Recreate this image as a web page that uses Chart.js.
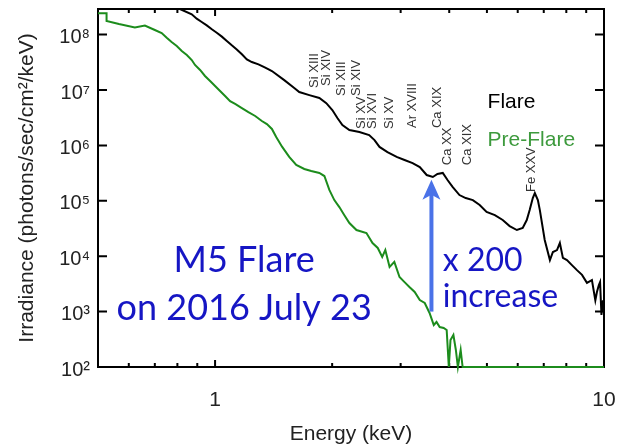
<!DOCTYPE html>
<html><head><meta charset="utf-8">
<script src="https://cdn.jsdelivr.net/npm/chart.js@4.4.0/dist/chart.umd.min.js"></script>
<style>html,body{margin:0;padding:0;background:#fff;}</style>
</head><body>
<canvas id="c" width="617" height="448"></canvas>
<script>
// ---- data (energy in keV, irradiance in photons/sec/cm^2/keV) ----
const flareEnergy = [0.5, 0.7, 0.812, 0.871, 0.897, 0.924, 0.952, 0.981, 1.010, 1.041, 1.072, 1.104, 1.137, 1.172, 1.207, 1.243, 1.293, 1.346, 1.400, 1.506, 1.598, 1.646, 1.747, 1.854, 1.932, 2.002, 2.063, 2.125, 2.215, 2.35, 2.49, 2.57, 2.647, 2.775, 2.93, 3.07, 3.22, 3.36, 3.50, 3.63, 3.73, 3.85, 3.96, 4.08, 4.25, 4.41, 4.60, 4.79, 4.99, 5.24, 5.49, 5.72, 5.97, 6.18, 6.33, 6.44, 6.56, 6.64, 6.76, 6.84, 7.04, 7.26, 7.39, 7.57, 7.70, 7.84, 8.03, 8.27, 8.52, 8.78, 9.04, 9.31, 9.5, 9.59, 9.7, 9.77, 9.85, 9.94, 10.0];
const flareIrr = [8e8, 4.5e8, 2.9e8, 2.32e8, 1.94e8, 1.69e8, 1.47e8, 1.25e8, 1.08e8, 9.2e7, 7.7e7, 6.4e7, 5.4e7, 4.41e7, 3.58e7, 3.2e7, 2.91e7, 2.53e7, 2.2e7, 1.51e7, 1.09e7, 9.2e6, 8.1e6, 7.2e6, 5.8e6, 4.35e6, 3.13e6, 2.33e6, 1.9e6, 1.75e6, 1.54e6, 1.25e6, 9.4e5, 7.6e5, 6.2e5, 5.45e5, 4.8e5, 4.07e5, 2.92e5, 2.69e5, 3.05e5, 3.18e5, 2.37e5, 1.78e5, 1.27e5, 1.12e5, 1.03e5, 8.4e4, 6.3e4, 5.5e4, 4.5e4, 3.5e4, 2.97e4, 3.23e4, 4.5e4, 6.8e4, 1.12e5, 1.38e5, 1.03e5, 6.8e4, 1.96e4, 8.5e3, 1.19e4, 1.29e4, 1.73e4, 9.3e3, 8.5e3, 6.9e3, 5.6e3, 4.6e3, 3.3e3, 3.7e3, 1.6e3, 2.26e3, 3.0e3, 3.4e3, 870, 1.6e3, 1.0e3];
const preEnergy = [0.5, 0.526, 0.526, 0.566, 0.622, 0.660, 0.700, 0.729, 0.751, 0.773, 0.797, 0.821, 0.846, 0.871, 0.888, 0.915, 0.942, 0.971, 1.0, 1.030, 1.061, 1.093, 1.126, 1.172, 1.218, 1.268, 1.319, 1.359, 1.400, 1.436, 1.488, 1.551, 1.617, 1.696, 1.767, 1.854, 1.91, 1.967, 2.026, 2.087, 2.15, 2.215, 2.31, 2.45, 2.54, 2.62, 2.69, 2.74, 2.81, 2.89, 2.98, 3.07, 3.16, 3.26, 3.36, 3.46, 3.56, 3.65, 3.71, 3.78, 3.87, 3.94, 3.99, 4.03, 4.10, 4.16, 4.21, 4.28, 4.33, 4.38, 6.0, 8.0, 10];
const preIrr = [2.42e8, 2.42e8, 1.76e8, 1.55e8, 1.34e8, 1.46e8, 1.21e8, 1.07e8, 8.8e7, 7.35e7, 6.22e7, 5.06e7, 4.29e7, 3.48e7, 2.83e7, 2.3e7, 1.79e7, 1.45e7, 1.18e7, 9.6e6, 7.8e6, 6.3e6, 5.6e6, 4.73e6, 4.0e6, 3.4e6, 2.76e6, 2.43e6, 1.98e6, 1.42e6, 9.4e5, 6.2e5, 4.43e5, 3.75e5, 3.45e5, 3.18e5, 2.8e5, 1.57e5, 1.03e5, 7.7e4, 5.5e4, 3.97e4, 2.97e4, 2.62e4, 1.73e4, 1.41e4, 9.7e3, 1.29e4, 6.4e3, 7.9e3, 4.2e3, 3.4e3, 2.78e3, 2.26e3, 1.62e3, 1.43e3, 944, 573, 649, 527, 506, 466, 100, 307, 378, 203, 100, 203, 100, 100, 100, 100, 100];

const yTickValues = [1e2, 1e3, 1e4, 1e5, 1e6, 1e7, 1e8];
const yTickLabels = ['10²', '10³', '10⁴', '10⁵', '10⁶', '10⁷', '10⁸'];
const xTickValues = [1, 10];
const xTickLabels = ['1', '10'];
const xMinorTickValues = [0.6, 0.7, 0.8, 0.9, 2, 3, 4, 5, 6, 7, 8, 9];

// spectral line labels: text, energy (keV), irradiance at the label's lower end
const lineLabelText = ['Si XIII', 'Si XIV', 'Si XIII', 'Si XIV', 'Si XV', 'Si XVI', 'Si XV', 'Ar XVIII', 'Ca XIX', 'Ca XX', 'Ca XIX', 'Fe XXV'];
const lineLabelEnergy = [1.80, 1.93, 2.11, 2.31, 2.38, 2.54, 2.81, 3.22, 3.73, 3.96, 4.46, 6.52];
const lineLabelIrr = [1.09e7, 1.18e7, 7.8e6, 7.8e6, 1.98e6, 1.98e6, 1.98e6, 2.06e6, 2.06e6, 4.4e5, 4.4e5, 1.44e5];

// increase arrow (energy, from, to)
const arrowEnergy = 3.6;
const arrowFrom = 1000;
const arrowTo = 2.4e5;

const FONT = '"Liberation Sans", Arial, Helvetica, sans-serif';
const BLUE_TXT = '#1616c4';

const frame = {
  id: 'frame',
  beforeDatasetsDraw(chart) {
    const {ctx, chartArea: a, scales: {x, y}} = chart;
    ctx.save();
    ctx.strokeStyle = '#000';
    ctx.lineWidth = 2;
    ctx.strokeRect(a.left, a.top, a.right - a.left, a.bottom - a.top);
    yTickValues.forEach(v => {
      const py = y.getPixelForValue(v);
      ctx.beginPath();
      ctx.moveTo(a.left, py); ctx.lineTo(a.left + 9, py);
      ctx.moveTo(a.right, py); ctx.lineTo(a.right - 9, py);
      ctx.stroke();
    });
    const xt = (v, len) => {
      const px = x.getPixelForValue(v);
      ctx.beginPath();
      ctx.moveTo(px, a.bottom); ctx.lineTo(px, a.bottom - len);
      ctx.moveTo(px, a.top); ctx.lineTo(px, a.top + len);
      ctx.stroke();
    };
    xTickValues.forEach(v => xt(v, 7));
    xMinorTickValues.forEach(v => xt(v, 4));
    ctx.restore();
  }
};

const overlay = {
  id: 'overlay',
  afterDatasetsDraw(chart) {
    const {ctx, scales: {x, y}} = chart;
    ctx.save();
    // spectral line labels
    ctx.fillStyle = '#333';
    ctx.font = '13px ' + FONT;
    ctx.textAlign = 'left';
    ctx.textBaseline = 'middle';
    lineLabelText.forEach((t, i) => {
      const px = x.getPixelForValue(lineLabelEnergy[i]);
      const py = y.getPixelForValue(lineLabelIrr[i]);
      ctx.save();
      ctx.translate(px, py);
      ctx.rotate(-Math.PI / 2);
      ctx.fillText(t, 0, 0);
      ctx.restore();
    });

    // legend texts
    ctx.textBaseline = 'alphabetic';
    ctx.font = '21px ' + FONT;
    ctx.fillStyle = '#000';
    ctx.fillText('Flare', x.getPixelForValue(5.02), y.getPixelForValue(4.73e6));
    ctx.fillStyle = '#3d9a3d';
    ctx.fillText('Pre-Flare', x.getPixelForValue(5.02), y.getPixelForValue(9.75e5));

    // arrow
    const ax = x.getPixelForValue(arrowEnergy);
    const ay0 = y.getPixelForValue(arrowFrom);
    const ay1 = y.getPixelForValue(arrowTo);
    ctx.strokeStyle = '#4a72e8';
    ctx.fillStyle = '#4a72e8';
    ctx.lineWidth = 4;
    ctx.beginPath();
    ctx.moveTo(ax, ay0); ctx.lineTo(ax, ay1 + 14);
    ctx.stroke();
    ctx.beginPath();
    ctx.moveTo(ax, ay1);
    ctx.lineTo(ax - 9, ay1 + 20);
    ctx.lineTo(ax, ay1 + 15);
    ctx.lineTo(ax + 9, ay1 + 20);
    ctx.closePath();
    ctx.fill();

    // big annotation texts
    ctx.fillStyle = BLUE_TXT;
    ctx.font = '36px Lato, "Open Sans", sans-serif';
    ctx.textAlign = 'center';
    ctx.fillText('M5 Flare', x.getPixelForValue(1.188), y.getPixelForValue(5.19e3));
    ctx.fillText('on 2016 July 23', x.getPixelForValue(1.188), y.getPixelForValue(705));
    ctx.font = '32px Lato, "Open Sans", sans-serif';
    ctx.textAlign = 'left';
    ctx.fillText('x 200', x.getPixelForValue(3.85), y.getPixelForValue(5.4e3));
    ctx.fillText('increase', x.getPixelForValue(3.85), y.getPixelForValue(1.21e3));
    ctx.restore();
  }
};

const toXY = (xs, ys) => xs.map((v, i) => ({x: v, y: ys[i]}));

new Chart(document.getElementById('c'), {
  type: 'line',
  data: {
    datasets: [
      {label: 'Pre-Flare', data: toXY(preEnergy, preIrr), borderColor: '#1c8c1c', borderWidth: 2, pointRadius: 0, tension: 0, fill: false, clip: false},
      {label: 'Flare', data: toXY(flareEnergy, flareIrr), borderColor: '#000', borderWidth: 2, pointRadius: 0, tension: 0, fill: false, clip: 1}
    ]
  },
  options: {
    responsive: false,
    animation: false,
    devicePixelRatio: 1,
    layout: {padding: {top: 9, right: 13, left: 0, bottom: 0}},
    plugins: {legend: {display: false}, tooltip: {enabled: false}},
    scales: {
      x: {
        type: 'logarithmic', min: 0.5, max: 10,
        grid: {display: false, drawTicks: false},
        border: {display: false},
        afterBuildTicks: s => { s.ticks = xTickValues.map(v => ({value: v})); },
        ticks: {
          autoSkip: false, maxRotation: 0, padding: 21, color: '#222',
          font: {family: FONT, size: 21},
          callback: v => xTickLabels[xTickValues.indexOf(v)]
        },
        title: {display: true, text: 'Energy (keV)', color: '#222', font: {family: FONT, size: 21}, padding: {top: 0, bottom: 1}},
        afterFit: s => { s.height = 81; s.paddingLeft = 0; s.paddingRight = 0; }
      },
      y: {
        type: 'logarithmic', min: 100, max: 2.9e8,
        grid: {display: false, drawTicks: false},
        border: {display: false},
        afterBuildTicks: s => { s.ticks = yTickValues.map(v => ({value: v})); },
        ticks: {
          autoSkip: false, padding: 8, color: '#222', labelOffset: 3,
          font: {family: FONT, size: 20},
          callback: v => yTickLabels[yTickValues.indexOf(v)]
        },
        title: {display: true, text: 'Irradiance (photons/sec/cm²/keV)', color: '#222', font: {family: FONT, size: 21}, padding: {top: 15, bottom: 0}},
        afterFit: s => { s.width = 98; s.paddingTop = 0; s.paddingBottom = 0; }
      }
    }
  },
  plugins: [frame, overlay]
});
</script>
</body></html>
